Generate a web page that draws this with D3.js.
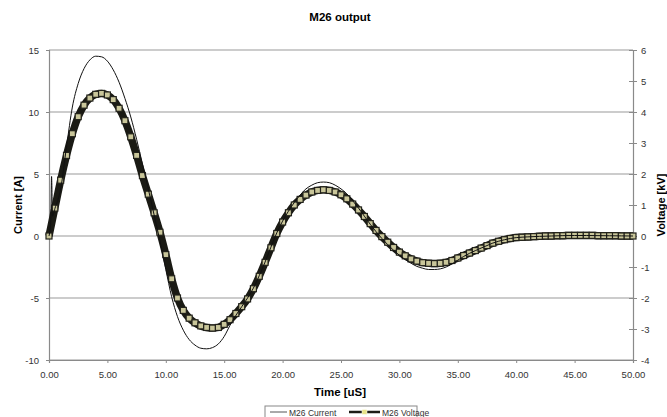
<!DOCTYPE html>
<html>
<head>
<meta charset="utf-8">
<style>
  body { margin: 0; background: #fff; }
  text { font-family: "Liberation Sans", Arial, sans-serif; }
</style>
</head>
<body>
<div id="chart"></div>
<script src="https://d3js.org/d3.v7.min.js"></script>
<script>

// time [uS] and current [A]
var currentTime = [0, 0.15, 0.22, 0.3, 0.5, 1, 1.5, 2, 2.5, 3, 3.5, 4, 4.5, 5, 5.5, 6, 6.5, 7, 7.5, 8, 8.5, 9, 9.5,
  10, 10.5, 11, 11.5, 12, 12.5, 13, 13.5, 14, 14.5, 15, 15.5, 16, 16.5, 17, 17.5, 18, 18.5, 19, 19.5,
  20, 20.5, 21, 21.5, 22, 22.5, 23, 23.5, 24, 24.5, 25, 25.5, 26, 26.5, 27, 27.5, 28, 28.5, 29, 29.5,
  30, 30.5, 31, 31.5, 32, 32.5, 33, 33.5, 34, 34.5, 35, 35.5, 36, 36.5, 37, 37.5, 38, 38.5, 39, 39.5,
  40, 41, 42, 43, 44, 45, 46, 47, 48, 49, 50];
var currentA = [0, 1.2, 4.8, 1.6, 2.2, 3.8, 7.2, 10.4, 12.3, 13.5, 14.2, 14.5, 14.45, 14.1, 13.4, 12.4, 11.1, 9.6, 7.8, 5.8, 3.8, 1.7, -0.4,
  -2.7, -4.9, -6.5, -7.6, -8.35, -8.8, -9.05, -9.1, -9.0, -8.7, -8.1, -7.2, -6.4, -5.7, -5.0, -4.2, -3.2, -2.1, -0.9, 0.25,
  1.2, 2.0, 2.7, 3.3, 3.8, 4.1, 4.3, 4.35, 4.3, 4.1, 3.8, 3.4, 2.85, 2.25, 1.6, 0.95, 0.35, -0.2, -0.7, -1.15,
  -1.55, -1.9, -2.2, -2.45, -2.6, -2.7, -2.7, -2.65, -2.5, -2.25, -1.95, -1.65, -1.4, -1.18, -0.97, -0.77, -0.57, -0.42, -0.3, -0.2,
  -0.13, -0.07, -0.03, 0, 0.03, 0.04, 0.04, 0.03, 0.02, 0.01, 0];

// time [uS] and voltage [kV]
var voltageTime = [0, 0.5, 1, 1.5, 2, 2.5, 3, 3.5, 4, 4.5, 5, 5.5, 6, 6.5, 7, 7.5, 8, 8.5, 9, 9.5,
  10, 10.5, 11, 11.5, 12, 12.5, 13, 13.5, 14, 14.5, 15, 15.5, 16, 16.5, 17, 17.5, 18, 18.5, 19, 19.5,
  20, 20.5, 21, 21.5, 22, 22.5, 23, 23.5, 24, 24.5, 25, 25.5, 26, 26.5, 27, 27.5, 28, 28.5, 29, 29.5,
  30, 30.5, 31, 31.5, 32, 32.5, 33, 33.5, 34, 34.5, 35, 35.5, 36, 36.5, 37, 37.5, 38, 38.5, 39, 39.5,
  40, 40.5, 41, 41.5, 42, 42.5, 43, 43.5, 44, 44.5, 45, 45.5, 46, 46.5, 47, 47.5, 48, 48.5, 49, 49.5, 50];
var voltageKV = [0, 0.9, 1.8, 2.6, 3.3, 3.85, 4.22, 4.45, 4.57, 4.6, 4.55, 4.4, 4.12, 3.72, 3.2, 2.6, 1.95, 1.35, 0.75, 0.12,
  -0.6, -1.38, -2.0, -2.4, -2.65, -2.8, -2.9, -2.95, -2.97, -2.95, -2.85, -2.7, -2.5, -2.28, -2.03, -1.7, -1.3, -0.85, -0.38, 0.08,
  0.45, 0.75, 1.0, 1.18, 1.32, 1.42, 1.47, 1.49, 1.47, 1.42, 1.33, 1.2, 1.03, 0.84, 0.63, 0.4, 0.18, -0.02, -0.2, -0.37,
  -0.52, -0.64, -0.74, -0.81, -0.86, -0.88, -0.89, -0.88, -0.85, -0.79, -0.71, -0.63, -0.55, -0.47, -0.39, -0.31, -0.23, -0.17, -0.12, -0.08,
  -0.05, -0.04, -0.03, -0.02, -0.01, 0, 0, 0.01, 0.01, 0.02, 0.02, 0.02, 0.02, 0.02, 0.01, 0.01, 0.01, 0.01, 0, 0, 0];

var xTicks = [0, 5, 10, 15, 20, 25, 30, 35, 40, 45, 50];
var currentTicks = [-10, -5, 0, 5, 10, 15];
var voltageTicks = [-4, -3, -2, -1, 0, 1, 2, 3, 4, 5, 6];

var width = 667, height = 417;

var svg = d3.select("#chart")
  .append("svg")
    .attr("width", width)
    .attr("height", height);

var x = d3.scaleLinear().domain([0, 50]).range([49, 633]);
var yA = d3.scaleLinear().domain([-10, 15]).range([360, 50]);
var yV = d3.scaleLinear().domain([-4, 6]).range([360, 50]);

// plain hyphen for negatives, like the spreadsheet
var intFmt = function(d) { return String(d); };

// gridlines
svg.append("g")
  .selectAll("line")
  .data(currentTicks)
  .enter()
  .append("line")
    .attr("x1", x(0)).attr("x2", x(50))
    .attr("y1", function(d) { return yA(d); })
    .attr("y2", function(d) { return yA(d); })
    .attr("stroke", "#9a9a9a")
    .attr("stroke-width", 1.2);

// left axis
var leftAxis = svg.append("g")
  .attr("transform", "translate(" + x(0) + ",0)")
  .call(d3.axisLeft(yA).tickValues(currentTicks).tickSize(3).tickPadding(7).tickFormat(intFmt));

// right axis
var rightAxis = svg.append("g")
  .attr("transform", "translate(" + x(50) + ",0)")
  .call(d3.axisRight(yV).tickValues(voltageTicks).tickSize(4).tickPadding(4).tickFormat(intFmt));
rightAxis.selectAll(".tick line").attr("x1", -4);

// bottom axis
var bottomAxis = svg.append("g")
  .attr("transform", "translate(0," + yA(-10) + ")")
  .call(d3.axisBottom(x).tickValues(xTicks).tickSize(3).tickPadding(8).tickFormat(function(d) { return d.toFixed(2); }));

[leftAxis, rightAxis, bottomAxis].forEach(function(g) {
  g.select(".domain").attr("stroke", "#8a8a8a").attr("stroke-width", 1.2);
  g.selectAll(".tick line").attr("stroke", "#8a8a8a");
  g.selectAll(".tick text")
    .attr("fill", "#333")
    .style("font-size", "9.5px")
    .style("font-family", "'Liberation Sans', Arial, sans-serif");
});

// voltage series: thick dark line with square markers
var vData = voltageTime.map(function(t, i) { return {t: t, v: voltageKV[i]}; });
var vLine = d3.line()
  .x(function(d) { return x(d.t); })
  .y(function(d) { return yV(d.v); })
  .curve(d3.curveMonotoneX);

svg.append("path")
  .datum(vData)
  .attr("d", vLine)
  .attr("fill", "none")
  .attr("stroke", "#1a1a14")
  .attr("stroke-width", 7.5);

svg.append("g")
  .selectAll("rect")
  .data(vData)
  .enter()
  .append("rect")
    .attr("x", function(d) { return x(d.t) - 3; })
    .attr("y", function(d) { return yV(d.v) - 3; })
    .attr("width", 6)
    .attr("height", 6)
    .attr("fill", "#c9c69a")
    .attr("stroke", "#22221b")
    .attr("stroke-width", 1.2);

// current series: thin line
var cData = currentTime.map(function(t, i) { return {t: t, a: currentA[i]}; });
var cLine = d3.line()
  .x(function(d) { return x(d.t); })
  .y(function(d) { return yA(d.a); })
  .curve(d3.curveMonotoneX);

svg.append("path")
  .datum(cData)
  .attr("d", cLine)
  .attr("fill", "none")
  .attr("stroke", "#111")
  .attr("stroke-width", 1);

// title and axis labels
svg.append("text")
  .attr("x", 340).attr("y", 21)
  .attr("text-anchor", "middle")
  .style("font-size", "11.5px").style("font-weight", "bold")
  .text("M26 output");

svg.append("text")
  .attr("x", 340).attr("y", 396)
  .attr("text-anchor", "middle")
  .style("font-size", "11.5px").style("font-weight", "bold")
  .text("Time [uS]");

svg.append("text")
  .attr("transform", "translate(22,205) rotate(-90)")
  .attr("text-anchor", "middle")
  .style("font-size", "11px").style("font-weight", "bold")
  .text("Current [A]");

svg.append("text")
  .attr("transform", "translate(665,205) rotate(-90)")
  .attr("text-anchor", "middle")
  .style("font-size", "11px").style("font-weight", "bold")
  .text("Voltage [kV]");

// legend
var legend = svg.append("g");
legend.append("rect")
  .attr("x", 265).attr("y", 406).attr("width", 152).attr("height", 14)
  .attr("fill", "#fff").attr("stroke", "#888");
legend.append("line")
  .attr("x1", 270).attr("x2", 287).attr("y1", 412).attr("y2", 412)
  .attr("stroke", "#555").attr("stroke-width", 1);
legend.append("text")
  .attr("x", 289).attr("y", 415.5)
  .style("font-size", "8.5px").attr("fill", "#333")
  .text("M26 Current");
legend.append("line")
  .attr("x1", 349).attr("x2", 380).attr("y1", 412).attr("y2", 412)
  .attr("stroke", "#1c1c16").attr("stroke-width", 2.5);
legend.append("rect")
  .attr("x", 362).attr("y", 409.5).attr("width", 5).attr("height", 5)
  .attr("fill", "#e8e48a").attr("stroke", "#fff").attr("stroke-width", 0.5);
legend.append("text")
  .attr("x", 382).attr("y", 415.5)
  .style("font-size", "8.5px").attr("fill", "#333")
  .text("M26 Voltage");

</script>
</body>
</html>
